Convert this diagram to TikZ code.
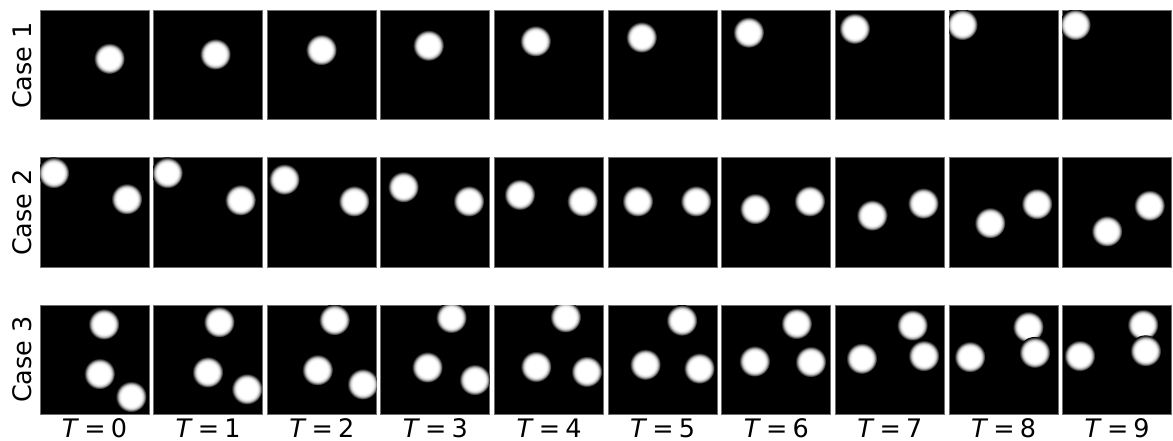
\documentclass[tikz,border=0pt]{standalone}
\usepackage{fontspec}
\setmainfont{DejaVu Sans}
\usetikzlibrary{calc}
\definecolor{framegray}{HTML}{6E6E6E}
\pgfdeclareradialshading{ballglow}{\pgfpointorigin}{color(0bp)=(white); color(16bp)=(white); color(19.5bp)=(white!85!black); color(22.5bp)=(white!40!black); color(25bp)=(black); color(50bp)=(black)}
% one blurred ball, kept inside its frame
\newcommand{\blob}[3]{%
  \begin{scope}
    \clip ($(#1.north west)+(0.5,0.5)$) rectangle ($(#1.south east)+(-0.5,-0.5)$);
    \shade[ball] ($(#1.north west)+(#2*109,#3*109)$) circle[radius=15.5];
  \end{scope}}

\begin{document}
\begin{tikzpicture}[x=1pt, y=-1pt,
  panel/.style={rectangle, draw=framegray, line width=1pt, fill=black, minimum size=109pt, inner sep=0pt},
  ball/.style={shading=ballglow},
  caselabel/.style={rotate=90, inner sep=0pt, font=\fontsize{25.5}{30}\selectfont},
  tlabel/.style={anchor=base, inner sep=0pt, font=\fontsize{25.5}{30}\selectfont}]
  \useasboundingbox (0,0) rectangle (1173,441);
  % frames: 3 cases x 10 time steps
  \foreach \row/\rowy in {1/65.5, 2/212.5, 3/359.5} {
    \node[caselabel] (case\row) at (22,\rowy) {Case \row};
    \foreach \tm in {0,...,9}
      \node[panel] (c\row t\tm) at ({94.5+113.63*\tm},\rowy) {};
  }
  \foreach \tm in {0,...,9}
    \node[tlabel] (lab\tm) at ({94.5+113.63*\tm},437) {\textit{T}\hspace{0.2em}=\hspace{0.2em}\tm};
  % case 1: one ball
  \foreach \tm/\fx/\fy in {0/0.64/0.44, 1/0.57/0.40, 2/0.50/0.36, 3/0.44/0.32, 4/0.38/0.28,
      5/0.31/0.245, 6/0.25/0.20, 7/0.18/0.165, 8/0.125/0.13, 9/0.12/0.13}
    \blob{c1t\tm}{\fx}{\fy};
  % case 2: two balls
  \foreach \tm/\fx/\fy in {0/0.13/0.14, 1/0.13/0.14, 2/0.16/0.20, 3/0.21/0.27, 4/0.235/0.34,
      5/0.275/0.40, 6/0.31/0.47, 7/0.34/0.53, 8/0.38/0.60, 9/0.41/0.675,
      0/0.80/0.38, 1/0.80/0.39, 2/0.80/0.40, 3/0.81/0.40, 4/0.81/0.40,
      5/0.81/0.40, 6/0.81/0.40, 7/0.81/0.42, 8/0.81/0.425, 9/0.80/0.44}
    \blob{c2t\tm}{\fx}{\fy};
  % case 3: three balls
  \foreach \tm/\fx/\fy in {0/0.59/0.18, 1/0.605/0.16, 2/0.62/0.14, 3/0.65/0.12, 4/0.656/0.115,
      5/0.68/0.145, 6/0.69/0.175, 7/0.71/0.19, 8/0.73/0.205, 9/0.74/0.185,
      0/0.55/0.635, 1/0.50/0.62, 2/0.465/0.60, 3/0.43/0.575, 4/0.385/0.57,
      5/0.345/0.55, 6/0.305/0.52, 7/0.245/0.495, 8/0.195/0.48, 9/0.16/0.47,
      0/0.84/0.845, 1/0.86/0.775, 2/0.88/0.73, 3/0.865/0.69, 4/0.85/0.615,
      5/0.84/0.585, 6/0.82/0.525, 7/0.815/0.47, 8/0.79/0.44, 9/0.765/0.425}
    \blob{c3t\tm}{\fx}{\fy};
\end{tikzpicture}
\end{document}
